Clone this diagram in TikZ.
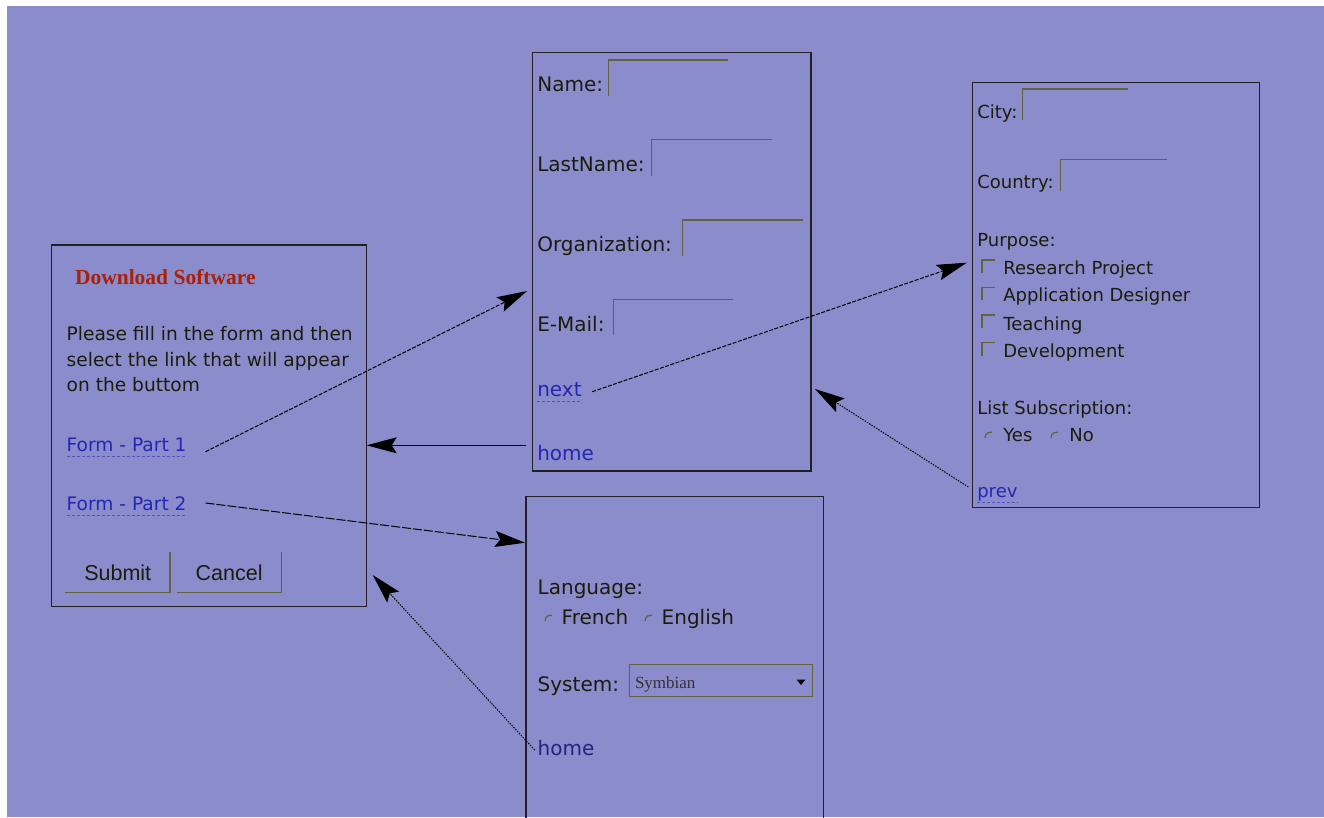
\documentclass[tikz,border=0pt]{standalone}
\usepackage{fontspec}
\newfontfamily\uisans{DejaVu Sans}
\newfontfamily\uiarial{Liberation Sans}
\newfontfamily\uiserif{Liberation Serif}
\usetikzlibrary{arrows.meta}
\definecolor{bg}{RGB}{138,140,203}
\definecolor{ink}{RGB}{28,28,12}
\definecolor{fieldc}{RGB}{98,98,62}
\definecolor{linkc}{RGB}{38,38,180}
\definecolor{redt}{RGB}{172,32,8}
\definecolor{frame}{RGB}{32,32,38}
\newcommand\fleft{\uisans\fontsize{18.6}{22}\selectfont}
\newcommand\fmid{\uisans\fontsize{20}{24}\selectfont}
\newcommand\fright{\uisans\fontsize{18}{22}\selectfont}
\newcommand\fbot{\uisans\fontsize{20}{24}\selectfont}
\begin{document}
\begin{tikzpicture}[x=1pt,y=-1pt,
  panel/.style={draw=frame,line width=1.4pt,anchor=north west,inner sep=0,outer sep=0},
  txt/.style={anchor=base west,inner sep=0,outer sep=0,text=ink},
  lk/.style={anchor=base west,inner sep=0,outer sep=0,text=linkc},
  fld/.style={draw=fieldc,line width=1.2pt},
  ulc/.style={draw=linkc!55!bg,line width=1pt,densely dashed},
  arr/.style={draw=black,line width=1pt,-{Stealth[length=30pt,width=16pt,inset=5pt]}},
  arrdash/.style={arr,dash pattern=on 4pt off 1.5pt},
  arrdot/.style={arr,dash pattern=on 1.5pt off 1.2pt}]
\useasboundingbox (0,0) rectangle (1324,817);
\clip (0,0) rectangle (1324,817);
\fill[white] (0,0) rectangle (1324,817);
\fill[bg] (7,6) rectangle (1324,817);

% ---------- panels
\node[panel,minimum width=315pt,minimum height=361.7pt] (left) at (51.7,245) {};
\node[panel,minimum width=278.3pt,minimum height=418.3pt] (mid) at (532.7,52.7) {};
\node[panel,minimum width=286.6pt,minimum height=424.6pt] (right) at (972.7,82.7) {};
\node[panel,minimum width=297.3pt,minimum height=340pt] (bot) at (526,496.7) {};

% ---------- left panel
\node[txt,text=redt,font=\uiserif\bfseries\fontsize{21.5}{24}\selectfont] (title) at (75,284.3) {Download Software};
\node[txt,font=\fleft] (l1) at (66.7,340) {Please fill in the form and then};
\node[txt,font=\fleft] (l2) at (66.7,366.7) {select the link that will appear};
\node[txt,font=\fleft] (l3) at (66.7,391.7) {on the buttom};
\node[lk,font=\fleft] (fp1) at (66.7,451.7) {Form - Part 1};
\node[lk,font=\fleft] (fp2) at (66.7,510.7) {Form - Part 2};
\draw[ulc] ([yshift=-5pt]fp1.base west) -- ([yshift=-5pt]fp1.base east);
\draw[ulc] ([yshift=-5pt]fp2.base west) -- ([yshift=-5pt]fp2.base east);
\node[txt,font=\uiarial\fontsize{21.5}{24}\selectfont] (submit) at (84.3,580) {Submit};
\node[txt,font=\uiarial\fontsize{21.5}{24}\selectfont] (cancel) at (195.7,580) {Cancel};
\draw[fld] (65,592.7) -- (170,592.7) -- (170,551.7);
\draw[fld] (177.3,592.7) -- (281.7,592.7) -- (281.7,551.7);

% ---------- middle panel
\node[txt,font=\fmid] (name) at (537.3,91.7) {Name:};
\draw[fld] (608.3,96) -- (608.3,60) -- (728,60);
\node[txt,font=\fmid] (last) at (537.3,171.7) {LastName:};
\draw[fld] (651.7,176) -- (651.7,139.3) -- (772,139.3);
\node[txt,font=\fmid] (org) at (537.3,251.7) {Organization:};
\draw[fld] (682.7,256) -- (682.7,220) -- (802.7,220);
\node[txt,font=\fmid] (mail) at (537.3,331.7) {E-Mail:};
\draw[fld] (613.3,335) -- (613.3,299.3) -- (732.7,299.3);
\node[lk,font=\fmid] (next) at (537.3,396.7) {next};
\draw[ulc] ([yshift=-5pt]next.base west) -- ([yshift=-5pt]next.base east);
\node[lk,font=\fmid] (homeA) at (537.3,460.7) {home};

% ---------- right panel
\node[txt,font=\fright] (city) at (977.3,118.3) {City:};
\draw[fld] (1022.7,120) -- (1022.7,89) -- (1128.3,89);
\node[txt,font=\fright] (country) at (977.3,188.3) {Country:};
\draw[fld] (1060.7,190.7) -- (1060.7,159.3) -- (1166.7,159.3);
\node[txt,font=\fright] (purpose) at (977.3,246) {Purpose:};
\node[txt,font=\fright] (o1) at (1003.3,274) {Research Project};
\node[txt,font=\fright] (o2) at (1003.3,301.7) {Application Designer};
\node[txt,font=\fright] (o3) at (1003.3,330) {Teaching};
\node[txt,font=\fright] (o4) at (1003.3,357.3) {Development};
\foreach \yy in {260,287.3,315,342.7}
  \draw[fld] (982,\yy+13) -- (982,\yy) -- (995,\yy);
\node[txt,font=\fright] (list) at (977.3,414.3) {List Subscription:};
\node[txt,font=\fright] (yes) at (1003.3,441.7) {Yes};
\node[txt,font=\fright] (no) at (1069.3,441.7) {No};
\draw[fld] (985,438) arc[start angle=180,end angle=280,radius=6];
\draw[fld] (1051,438) arc[start angle=180,end angle=280,radius=6];
\node[lk,font=\fright] (prev) at (977.3,497) {prev};
\draw[ulc] ([yshift=-5pt]prev.base west) -- ([yshift=-5pt]prev.base east);

% ---------- bottom panel
\node[txt,font=\fbot] (lang) at (537.7,594) {Language:};
\node[txt,font=\fbot] (fr) at (561.7,624.3) {French};
\node[txt,font=\fbot] (en) at (661.7,624.3) {English};
\draw[fld] (545,621) arc[start angle=180,end angle=280,radius=6];
\draw[fld] (645,621) arc[start angle=180,end angle=280,radius=6];
\node[txt,font=\fbot] (sys) at (537.7,691.7) {System:};
\node[draw=fieldc,line width=1.1pt,anchor=north west,minimum width=182.4pt,minimum height=32pt,inner sep=0] (drop) at (629.3,664) {};
\node[txt,text=ink!80!bg,font=\uiserif\fontsize{17}{20}\selectfont] (symb) at (635,688.3) {Symbian};
\fill[black] (796.5,679.5) -- (805.5,679.5) -- (801,685) -- cycle;
\node[lk,text=linkc!70!ink,font=\fbot] (homeB) at (537.7,755) {home};

% ---------- connectors
\coordinate (t1) at (527,291);
\coordinate (t3) at (525,542.7);
\coordinate (t4) at (372.7,575);
\coordinate (t5) at (966.7,262.7);
\coordinate (t6) at (815,389);
\coordinate (s2) at (526,445.3);
\draw[arrdash] ([xshift=19pt]fp1.base east) -- (t1);
\draw[arr] (s2) -- (left.east |- s2);
\draw[arrdash,dash pattern=on 9pt off 2pt] ([xshift=19pt,yshift=7.7pt]fp2.base east) -- (t3);
\draw[arrdot] ([xshift=-3pt,yshift=5pt]homeB.base west) -- (t4);
\draw[arrdash] ([xshift=10.7pt,yshift=5pt]next.base east) -- (t5);
\draw[arrdot] ([xshift=-9pt,yshift=10pt]prev.base west) -- (t6);
\end{tikzpicture}
\end{document}
